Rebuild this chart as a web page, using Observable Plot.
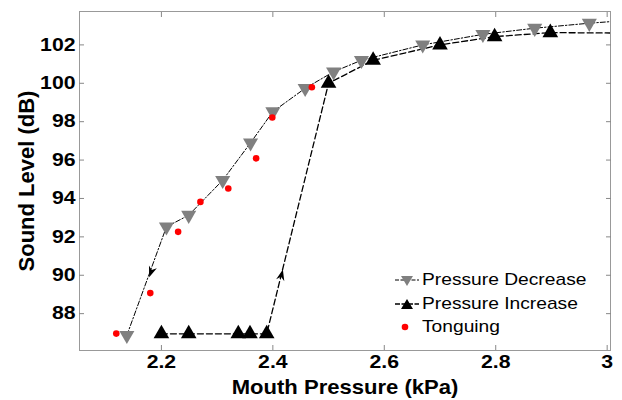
<!DOCTYPE html>
<html><head><meta charset="utf-8">
<script src="https://cdn.jsdelivr.net/npm/d3@7"></script>
<script src="https://cdn.jsdelivr.net/npm/@observablehq/plot@0.6"></script>
<style>
body{margin:0;background:#fff;}
#wrap{position:relative;width:622px;height:400px;font-family:"Liberation Sans",Arial,sans-serif;}
.lg{position:absolute;left:394px;height:22px;line-height:22px;font-size:17px;color:#000;white-space:nowrap;display:flex;align-items:center;}
.lg svg{margin-right:2px;}
.lg span{display:inline-block;transform:scaleX(1.13);transform-origin:left center;}
</style></head><body><div id="wrap"></div>
<script>
// Pressure Decrease (grey, downward triangles)
const decX = [2.138, 2.209, 2.249, 2.310, 2.360, 2.400, 2.458, 2.509, 2.559, 2.669, 2.777, 2.870, 2.968];
const decY = [86.87, 92.52, 93.13, 94.95, 96.90, 98.52, 99.74, 100.60, 101.20, 102.00, 102.55, 102.87, 103.13];
// Pressure Increase (black, upward triangles)
const incX = [2.200, 2.249, 2.338, 2.359, 2.389, 2.500, 2.580, 2.700, 2.798, 2.898];
const incY = [86.95, 86.95, 86.95, 86.95, 86.95, 100.00, 101.20, 102.00, 102.43, 102.64];
// Tonguing (red dots)
const tonX = [2.119, 2.180, 2.230, 2.270, 2.320, 2.370, 2.399, 2.470];
const tonY = [86.96, 89.07, 92.26, 93.82, 94.52, 96.09, 98.22, 99.79];
// fitted dashed curves continue to the right edge
const decTail = {x: 3.01, y: 103.22};
const incTail = {x: 3.01, y: 102.62};
// direction arrows on the hysteresis loop
const arrowDown = {x: 2.178, y: 89.9};
const arrowUp = {x: 2.418, y: 90.3};

const xTicks = [2.2, 2.4, 2.6, 2.8, 3];
const yTicks = [88, 90, 92, 94, 96, 98, 100, 102];
const xLabel = "Mouth Pressure (kPa)";
const yLabel = "Sound Level (dB)";
const legendNames = ["Pressure Decrease", "Pressure Increase", "Tonguing"];

const dec = decX.map((x, i) => ({x, y: decY[i]}));
const inc = incX.map((x, i) => ({x, y: incY[i]}));
const ton = tonX.map((x, i) => ({x, y: tonY[i]}));
const decLine = [...dec, decTail];
const incLine = [...inc, incTail];

const arrowSymbol = {
  draw(ctx) {
    ctx.moveTo(0, 0);
    ctx.lineTo(-4.2, 11);
    ctx.lineTo(0, 7.5);
    ctx.lineTo(4.2, 11);
    ctx.closePath();
  }
};

const tickFont = {fontSize: 18, fontWeight: "bold", fontFamily: "Liberation Sans, Arial, sans-serif"};

const chart = Plot.plot({
  width: 622,
  height: 400,
  marginLeft: 79,
  marginRight: 12,
  marginTop: 11,
  marginBottom: 50,
  style: {fontFamily: "Liberation Sans, Arial, sans-serif", color: "#000", background: "#fff"},
  x: {domain: [2.053, 3.006]},
  y: {domain: [86.08, 103.74]},
  marks: [
    Plot.line(decLine, {x: "x", y: "y", stroke: "#000", strokeWidth: 1, strokeDasharray: "5,2,1.5,2", clip: true}),
    Plot.line(incLine, {x: "x", y: "y", stroke: "#000", strokeWidth: 1.3, strokeDasharray: "6,3", clip: true}),
    Plot.dot(dec, {x: "x", y: "y", symbol: "triangle", r: 5.6, fill: "#808080", rotate: 180}),
    Plot.dot(inc, {x: "x", y: "y", symbol: "triangle", r: 5.8, fill: "#000"}),
    Plot.dot(ton, {x: "x", y: "y", r: 3.3, fill: "#ff0000"}),
    Plot.dot([arrowUp], {x: "x", y: "y", symbol: arrowSymbol, fill: "#000", rotate: 14}),
    Plot.dot([arrowDown], {x: "x", y: "y", symbol: arrowSymbol, fill: "#000", rotate: 200}),
    Plot.frame({stroke: "#999"}),
    Plot.axisX({anchor: "bottom", ticks: xTicks, tickSize: -5, tickPadding: 10, stroke: "#888",
      tickFormat: d => d === 3 ? "3" : d.toFixed(1), label: null, ...tickFont}),
    Plot.axisX({anchor: "top", ticks: xTicks, tickSize: -5, stroke: "#888", tickFormat: () => "", label: null}),
    Plot.axisY({anchor: "left", ticks: yTicks, tickSize: -5, tickPadding: 9, stroke: "#888", label: null, ...tickFont}),
    Plot.axisY({anchor: "right", ticks: yTicks, tickSize: -5, stroke: "#888", tickFormat: () => "", label: null}),
    Plot.text([xLabel], {text: d => d, frameAnchor: "bottom", dy: 37, textAnchor: "middle", lineAnchor: "middle", fontSize: 21, fontWeight: "bold"}),
    Plot.text([yLabel], {text: d => d, frameAnchor: "left", dx: -53, rotate: -90, textAnchor: "middle", lineAnchor: "middle", fontSize: 22, fontWeight: "bold"})
  ]
});
const wrap = document.getElementById("wrap");
wrap.appendChild(chart);

// the reference glyphs are slightly wider than Arial's: stretch tick labels horizontally
chart.querySelectorAll('g[aria-label="x-axis tick label"] text, g[aria-label="y-axis tick label"] text').forEach(t => {
  const tr = t.getAttribute("transform") || "";
  t.setAttribute("transform", tr + " scale(1.18,1)");
});
chart.querySelectorAll('g[aria-label="text"] text').forEach(t => {
  const tr = t.getAttribute("transform") || "";
  if (!/rotate/.test(tr)) t.setAttribute("transform", tr + " scale(1.05,1)");
});

// legend
const rows = [
  {top: 269, svg: '<svg width="26" height="20"><line x1="1" y1="10" x2="25" y2="10" stroke="#000" stroke-width="1" stroke-dasharray="4,1.5"/><path d="M7,6 L19,6 L13,16 Z" fill="#808080"/></svg>'},
  {top: 293, svg: '<svg width="26" height="20"><line x1="1" y1="10" x2="25" y2="10" stroke="#000" stroke-width="1.3" stroke-dasharray="5,1.5"/><path d="M7,15 L19,15 L13,5 Z" fill="#000"/></svg>'},
  {top: 316, svg: '<svg width="26" height="20"><circle cx="11" cy="10" r="3.3" fill="#ff0000"/></svg>'}
];
rows.forEach((r, i) => {
  const d = document.createElement("div");
  d.className = "lg";
  d.style.top = r.top + "px";
  d.innerHTML = r.svg + "<span>" + legendNames[i] + "</span>";
  wrap.appendChild(d);
});
</script></body></html>
